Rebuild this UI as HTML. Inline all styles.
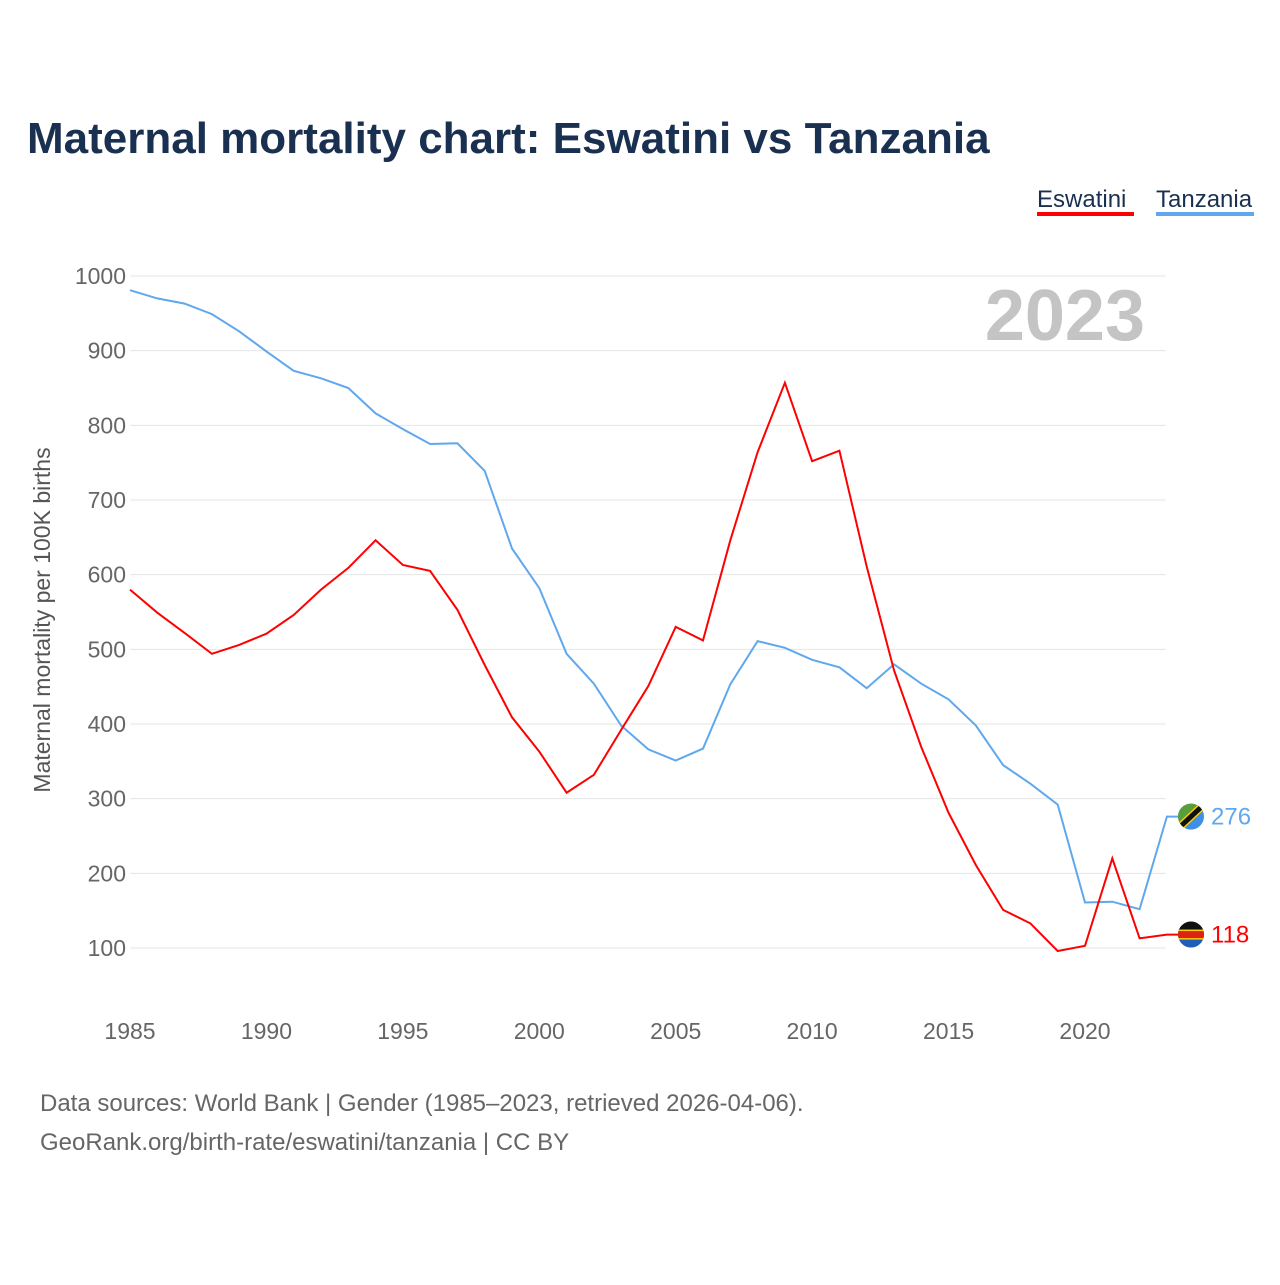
<!DOCTYPE html>
<html><head><meta charset="utf-8"><style>
body{margin:0;background:#fff;font-family:"Liberation Sans",sans-serif;}
</style></head><body>
<svg id="chart" width="1280" height="1280" xmlns="http://www.w3.org/2000/svg" font-family="Liberation Sans, sans-serif">
<defs id="defs"></defs>
<rect width="1280" height="1280" fill="#fff"/>
<text x="27" y="153" font-size="44" font-weight="bold" fill="#1a3050">Maternal mortality chart: Eswatini vs Tanzania</text>
<g>
<text x="1037" y="207" font-size="24" fill="#1a3050">Eswatini</text>
<rect x="1037" y="212" width="97" height="4" fill="#ff0000"/></g>
<g>
<text x="1156" y="207" font-size="24" fill="#1a3050">Tanzania</text>
<rect x="1156" y="212" width="98" height="4" fill="#5fa8ee"/></g>
<text x="1145" y="340" text-anchor="end" font-size="72" font-weight="bold" fill="#c4c4c4">2023</text>
<g id="grid"></g>
<text transform="translate(50,620) rotate(-90)" text-anchor="middle" font-size="23" fill="#555">Maternal mortality per 100K births</text>
<g id="series"></g>
<text x="40" y="1111" font-size="24" fill="#666">Data sources: World Bank | Gender (1985–2023, retrieved 2026-04-06).</text>
<text x="40" y="1150" font-size="24" fill="#666">GeoRank.org/birth-rate/eswatini/tanzania | CC BY</text>
</svg>
<script>
const years=[1985,1986,1987,1988,1989,1990,1991,1992,1993,1994,1995,1996,1997,1998,1999,2000,2001,2002,2003,2004,2005,2006,2007,2008,2009,2010,2011,2012,2013,2014,2015,2016,2017,2018,2019,2020,2021,2022,2023];
const eswatini=[580,549,522,494,506,521,546,580,609,646,613,605,553,479,409,363,308,332,392,451,530,512,646,764,857,752,766,611,472,369,281,211,151,133,96,103,220,113,118];
const tanzania=[981,970,963,949,926,899,873,863,850,816,795,775,776,739,635,582,494,454,398,366,351,367,453,511,502,486,476,448,480,454,433,398,345,320,292,161,162,152,276];
const yTicks=[100,200,300,400,500,600,700,800,900,1000];
const xTicks=[1985,1990,1995,2000,2005,2010,2015,2020];
const NS="http://www.w3.org/2000/svg";
const X=y=>130+(y-1985)*955/35;
const Y=v=>948-(v-100)*672/900;
const grid=document.getElementById('grid'),ser=document.getElementById('series'),defs=document.getElementById('defs');
function mk(tag,attrs,parent){const e=document.createElementNS(NS,tag);for(const k in attrs)e.setAttribute(k,attrs[k]);parent.appendChild(e);return e;}
yTicks.forEach(v=>{
 const l=mk('line',{x1:130,x2:1166,y1:Y(v),y2:Y(v),stroke:'#e6e6e6','stroke-width':1},grid);
 
 
 const t=mk('text',{x:126,y:Y(v)+8,'text-anchor':'end','font-size':23,fill:'#666'},grid);
 
 
 t.textContent=v;
});
xTicks.forEach(v=>{
 const t=mk('text',{x:X(v),y:1039,'text-anchor':'middle','font-size':23,fill:'#666'},grid);
 
 
 t.textContent=v;
});
function draw(vals,color,name){
 let d=vals.map((v,i)=>(i?'L':'M')+X(years[i]).toFixed(1)+','+Y(v).toFixed(1)).join('');
 const last=vals[vals.length-1];
 const cy=Y(last);
 d+='L1178,'+cy.toFixed(1);
 const p=mk('path',{d:d,fill:'none',stroke:color,'stroke-width':2},ser);
 
 
 const cp=mk('clipPath',{id:'clip-'+name},defs);
 mk('circle',{cx:1191,cy:cy,r:13},cp);
 const g=mk('g',{'clip-path':'url(#clip-'+name+')'},ser);
 
 
 if(name==='eswatini'){
  mk('rect',{x:1176,y:cy-14,width:30,height:28,fill:'#1f5db8'},g);
  mk('rect',{x:1176,y:cy-14,width:30,height:11,fill:'#111'},g);
  mk('rect',{x:1176,y:cy-4,width:30,height:8,fill:'#d21'},g);
  mk('rect',{x:1176,y:cy-5,width:30,height:1.5,fill:'#fc0'},g);
  mk('rect',{x:1176,y:cy+3.5,width:30,height:1.5,fill:'#fc0'},g);
 } else {
  mk('rect',{x:1176,y:cy-14,width:30,height:28,fill:'#3f8fe6'},g);
  mk('polygon',{points:`1176,${cy-14} 1206,${cy-14} 1176,${cy+14}`,fill:'#5a9e3a'},g);
  mk('line',{x1:1176,y1:cy+14,x2:1206,y2:cy-14,stroke:'#fc0','stroke-width':8},g);
  mk('line',{x1:1176,y1:cy+14,x2:1206,y2:cy-14,stroke:'#111','stroke-width':5},g);
 }
 const t=mk('text',{x:1211,y:cy+8,'font-size':24,fill:color},ser);
 
 
 t.textContent=last;
}
draw(tanzania,'#5fa8ee','tanzania');
draw(eswatini,'#ff0000','eswatini');
</script>
</body></html>
